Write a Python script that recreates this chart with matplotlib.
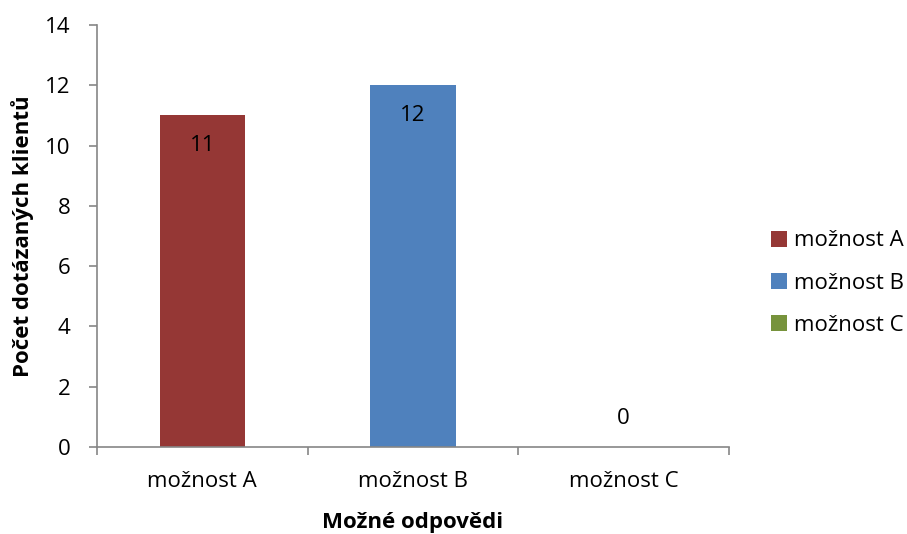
import matplotlib.pyplot as plt

plt.rcParams['font.family'] = ['Open Sans', 'DejaVu Sans']

# počty odpovědí
kategorie = ['možnost A', 'možnost B', 'možnost C']
pocty = [11, 12, 0]
barvy = ['#953735', '#4F81BD', '#77933C']
y_ticks = [0, 2, 4, 6, 8, 10, 12, 14]

fs = 16

fig = plt.figure(figsize=(9.07, 5.34), dpi=100)
ax = fig.add_axes([97/907, 87/534, 632/907, 422/534])

x = list(range(len(kategorie)))
bars = ax.bar(x, pocty, width=0.405, color=barvy, label=kategorie, zorder=2)

# popisky hodnot
for b, v in zip(bars, pocty):
    cx = b.get_x() + b.get_width() / 2
    off = -30 if v > 0 else 29
    ax.annotate(str(v), (cx, v), xytext=(0, off * 0.72), textcoords='offset points',
                ha='center', va='center', fontsize=fs, color='black')

ax.set_xlim(-0.5, 2.5)
ax.set_ylim(0, 14)
ax.set_yticks(y_ticks)
ax.set_xticks([-0.5, 0.5, 1.5, 2.5], minor=False)
ax.set_xticklabels([])
ax.set_xticks(x, minor=True)
ax.set_xticklabels(kategorie, minor=True)
ax.tick_params(axis='x', which='minor', length=0, pad=17, labelsize=fs)
ax.tick_params(axis='x', which='major', length=6, direction='out', color='#868686', width=1.2)
ax.tick_params(axis='y', length=6, color='#868686', width=1.2, labelsize=fs, pad=13)

for s in ['top', 'right']:
    ax.spines[s].set_visible(False)
for s in ['left', 'bottom']:
    ax.spines[s].set_color('#868686')
    ax.spines[s].set_linewidth(1.2)

ax.set_xlabel('Možné odpovědi', fontsize=fs, fontweight='bold', labelpad=15)
ax.set_ylabel('Počet dotázaných klientů', fontsize=fs, fontweight='bold', labelpad=8)

ax.legend(loc='center left', bbox_to_anchor=(771/907, 0.47),
          bbox_transform=fig.transFigure, frameon=False, borderpad=0, borderaxespad=0,
          fontsize=fs, handlelength=0.72, handleheight=0.72, handletextpad=0.3,
          labelspacing=0.95)

fig.savefig('out.png', dpi=100)
